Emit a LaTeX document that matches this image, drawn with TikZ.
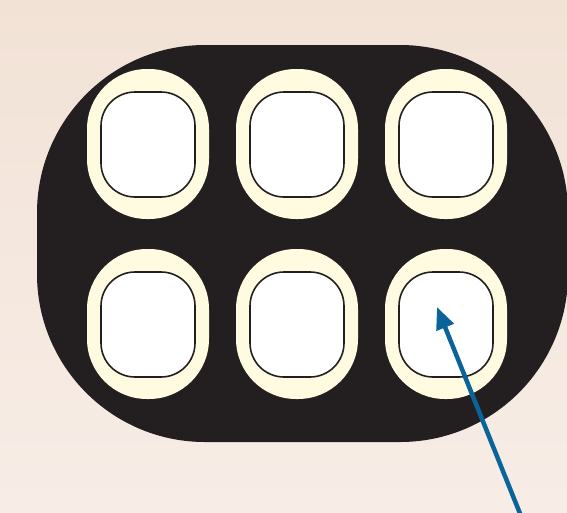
\documentclass[tikz,border=0pt]{standalone}
\usepackage{tikz}
\usetikzlibrary{arrows.meta,positioning}
\definecolor{cBgTop}{HTML}{F2E2D6}
\definecolor{cBgBot}{HTML}{F7EDE6}
\definecolor{cBody}{HTML}{231F20}
\definecolor{cRim}{HTML}{FFFBE0}
\definecolor{cArrow}{HTML}{0A6399}
\begin{document}
\begin{tikzpicture}[
  x=1pt, y=-1pt,
  body/.style={
    fill=cBody, inner sep=0pt,
    minimum width=531pt, minimum height=397pt,
    rounded corners=168pt
  },
  rim/.style={
    fill=cRim, inner sep=0pt,
    minimum width=122pt, minimum height=150pt,
    rounded corners=60pt
  },
  pane/.style={
    fill=white, draw=cBody, line width=1.6pt, inner sep=0pt,
    minimum width=94pt, minimum height=105pt,
    rounded corners=34pt
  },
  pointer/.style={
    draw=cArrow, line width=4.5pt,
    -{Triangle[length=22pt,width=18pt]}
  },
]
\useasboundingbox (0,0) rectangle (567,512);
\shade[top color=cBgTop, bottom color=cBgBot] (0,0) rectangle (567,512);
\node[body] (tray) at (302.5,243.5) {};
% Row 1
\node[rim]  (r11) at (148,144) {};
\node[pane] (p11) at (148,144.5) {};
\node[rim]  (r12) at (297,144) {};
\node[pane] (p12) at (297,144.5) {};
\node[rim]  (r13) at (446,144) {};
\node[pane] (p13) at (446,144.5) {};
% Row 2
\node[rim]  (r21) at (148,324) {};
\node[pane] (p21) at (148,324.5) {};
\node[rim]  (r22) at (297,324) {};
\node[pane] (p22) at (297,324.5) {};
\node[rim]  (r23) at (446,324) {};
\node[pane] (p23) at (446,324.5) {};
% pointer
\coordinate (tail) at (521,516);
\coordinate (tip) at (437,307);
\draw[pointer] (tail) -- (tip);
\end{tikzpicture}
\end{document}
